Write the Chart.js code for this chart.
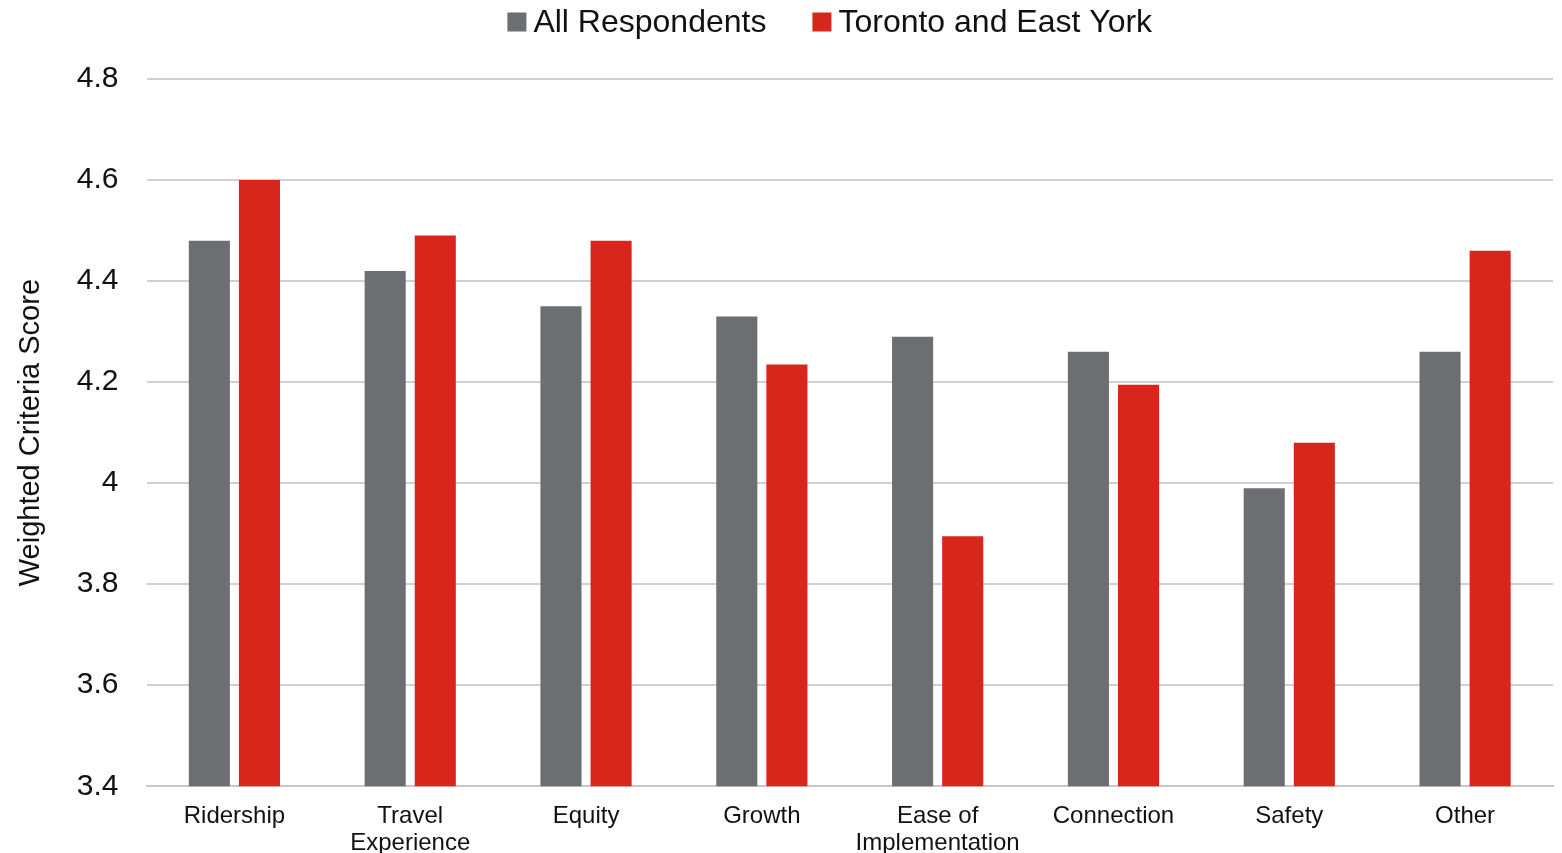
<!DOCTYPE html>
<html><head><meta charset="utf-8">
<script src="https://cdn.jsdelivr.net/npm/chart.js@4"></script>
<style>html,body{margin:0;padding:0;background:#fff}#w{width:1562px;height:853px}</style>
</head><body><div id="w"><canvas id="c"></canvas></div>
<script>
const categories = ["Ridership", ["Travel", "Experience"], "Equity", "Growth", ["Ease of", "Implementation"], "Connection", "Safety", "Other"];
const allRespondents = [4.48, 4.42, 4.35, 4.33, 4.29, 4.26, 3.99, 4.26];
const torontoEastYork = [4.60, 4.49, 4.48, 4.235, 3.895, 4.195, 4.08, 4.46];
const yTicks = [3.4, 3.6, 3.8, 4.0, 4.2, 4.4, 4.6, 4.8];
const seriesNames = ["All Respondents", "Toronto and East York"];
const seriesColors = ["#6d6e71", "#d9261c"];

const font = "'Liberation Sans', Arial, sans-serif";

// Legend drawn at the top, positioned like the reference
const topLegend = {
  id: 'topLegend',
  afterDraw(chart) {
    const ctx = chart.ctx;
    ctx.save();
    ctx.font = "32px " + font;
    ctx.textBaseline = 'middle';
    ctx.textAlign = 'left';
    const box = 19, gapBoxText = 7, gapItems = 46, cy = 22;
    const items = chart.data.datasets.map(d => ({label: d.label, color: d.backgroundColor}));
    const widths = items.map(it => box + gapBoxText + ctx.measureText(it.label).width);
    const total = widths.reduce((a, b) => a + b, 0) + gapItems * (items.length - 1);
    let x = (chart.chartArea.left + chart.chartArea.right) / 2 - total / 2 - 20;
    items.forEach((it, i) => {
      ctx.fillStyle = it.color;
      ctx.fillRect(x, cy - box / 2, box, box);
      ctx.fillStyle = '#111';
      ctx.fillText(it.label, x + box + gapBoxText, cy + 1);
      x += widths[i] + gapItems;
    });
    ctx.restore();
  }
};

new Chart(document.getElementById('c'), {
  type: 'bar',
  data: {
    labels: categories,
    datasets: [
      {label: seriesNames[0], data: allRespondents, backgroundColor: seriesColors[0]},
      {label: seriesNames[1], data: torontoEastYork, backgroundColor: seriesColors[1]}
    ]
  },
  plugins: [topLegend],
  options: {
    responsive: true, maintainAspectRatio: false, animation: false,
    layout: {padding: {left: 6, right: 9, top: 79, bottom: -21}},
    datasets: {bar: {categoryPercentage: 0.57, barPercentage: 0.82}},
    plugins: {
      legend: {display: false},
      tooltip: {enabled: false}
    },
    scales: {
      x: {
        grid: {display: false, drawTicks: false},
        border: {color: '#c8c8c8', width: 2},
        ticks: {font: {family: font, size: 24, lineHeight: 1.12}, color: '#111', maxRotation: 0, autoSkip: false, padding: 17}
      },
      y: {
        min: 3.4, max: 4.8,
        afterBuildTicks: (axis) => { axis.ticks = yTicks.map(v => ({value: v})); },
        grid: {color: '#d0d0d0', lineWidth: 2, drawTicks: false},
        border: {display: false},
        ticks: {font: {family: font, size: 30}, color: '#111', padding: 28,
          callback: (v) => String(Number(v.toFixed(1)))},
        title: {display: true, text: 'Weighted Criteria Score', font: {family: font, size: 29}, color: '#111', padding: {top: 8, bottom: 0}}
      }
    }
  }
});
</script></body></html>
